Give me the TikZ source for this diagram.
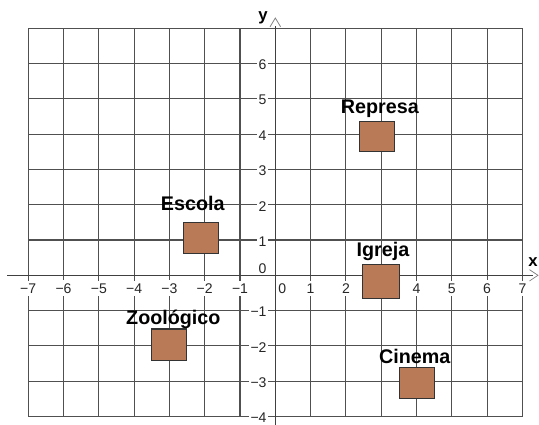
\documentclass[tikz,border=0pt]{standalone}
\usepackage{fontspec}
\setmainfont{Liberation Sans}
\usetikzlibrary{positioning}
\definecolor{brick}{RGB}{185,122,87}
\definecolor{gridgray}{RGB}{80,80,80}
\begin{document}
\begin{tikzpicture}[
    place/.style={draw=black!80,fill=brick,line width=0.9pt,inner sep=0pt,
      minimum width=0.99cm,minimum height=0.87cm},
    placename/.style={font=\fontsize{15.9}{17}\selectfont\bfseries,inner sep=0pt},
    ticklabel/.style={font=\fontsize{11.3}{12}\selectfont,text=black!85,fill=white,
      inner xsep=1.2pt,inner ysep=2.4pt},
    axisname/.style={font=\fontsize{13.5}{14}\selectfont\bfseries,inner sep=0pt}]
    \useasboundingbox (-7.8,-4.24) rectangle (7.47,7.8);
    % Grid
    \draw[gridgray,line width=0.9pt] (-7,-4) grid (7,7);
    % Tick labels
    \foreach \x in {-7,...,-1,1,2,...,7}
      \node[ticklabel] (tx\x) at (\x,-0.37) {\ifnum\x<0 −\number-\x\else\x\fi};
    \node[ticklabel] (tx0) at (0.2,-0.37) {0};
    \foreach \y in {-4,...,-1,1,2,...,6}
      \node[ticklabel,anchor=east] (ty\y) at (-0.2,\y-0.04) {\ifnum\y<0 −\number-\y\else\y\fi};
    \node[ticklabel,anchor=east] (ty0) at (-0.2,0.2) {0};
    % Axes
    \draw[black!75,line width=0.9pt] (-7.6,0) -- (7.3,0);
    \draw[black!75,line width=0.9pt] (0,-4.24) -- (0,7.06);
    \draw[gray,line width=0.6pt] (7.2,0.16) -- (7.44,0) -- (7.2,-0.16);
    \draw[gray,line width=0.6pt] (-0.15,7.04) -- (0,7.29) -- (0.15,7.04);
    \node[axisname] (xname) at (7.3,0.38) {x};
    \node[axisname] (yname) at (-0.35,7.29) {y};
    % Places
    \node[place] (represa) at (2.89,3.935) {};
    \node[place,minimum height=0.88cm] (escola) at (-2.115,1.06) {};
    \node[place,minimum height=0.9cm] (zoo) at (-3.005,-1.97) {};
    \node[place,minimum width=1.07cm,minimum height=0.96cm] (igreja) at (2.995,-0.17) {};
    \node[place] (cinema) at (4.005,-3.045) {};
    \node[placename] (represaname) at (2.96,4.73) {Represa};
    \node[placename] (escolaname) at (-2.34,2.05) {Escola};
    \node[placename] (zooname) at (-2.89,-1.25) {Zoológico};
    \node[placename] (igrejaname) at (3.05,0.68) {Igreja};
    \node[placename] (cinemaname) at (3.95,-2.31) {Cinema};
\end{tikzpicture}
\end{document}
